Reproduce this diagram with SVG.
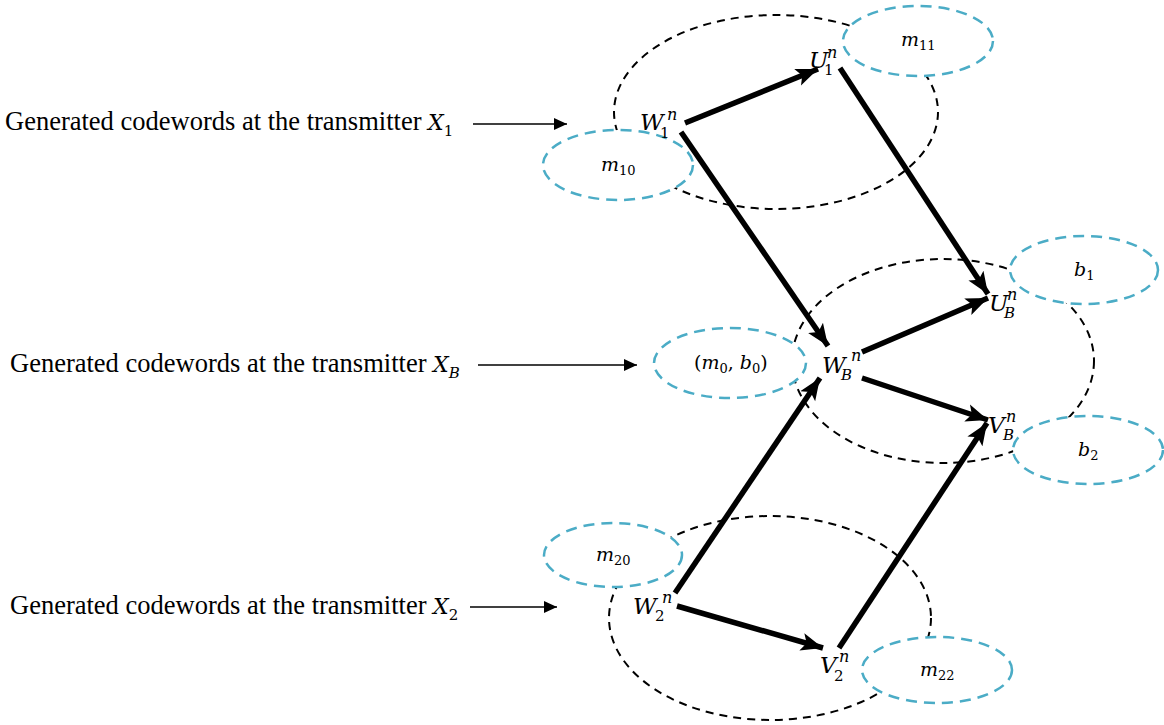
<svg xmlns="http://www.w3.org/2000/svg" width="1164" height="725" viewBox="0 0 1164 725">
<style>
.grp{fill:none;stroke:#000;stroke-width:2;stroke-dasharray:8 6}
.set{fill:#fff;stroke:#4BACC6;stroke-width:2.5;stroke-dasharray:11 7}
.thick{stroke:#000;stroke-width:5.5;fill:none}
.thin{stroke:#000;stroke-width:1.5;fill:none}
.lbl{font-family:"Liberation Serif",serif;font-size:26.5px;fill:#000}
.mv{font-family:"DejaVu Serif","Liberation Serif",serif;font-style:italic;fill:#000}
.big{font-size:23px}
.sup{font-size:16px}
.sub{font-size:15px;font-style:normal}
.subi{font-size:15px}
.sm{font-size:19px}
.ssub{font-size:13px;font-style:normal}
.up{font-style:normal}
</style>
<defs>
<marker id="ah" markerUnits="userSpaceOnUse" markerWidth="24" markerHeight="20" refX="22" refY="10" orient="auto"><path d="M0,1 L22,10 L0,19 L5,10 Z" fill="#000"/></marker>
<marker id="ahs" markerUnits="userSpaceOnUse" markerWidth="14" markerHeight="12" refX="13" refY="6" orient="auto"><path d="M0,0 L13,6 L0,12 Z" fill="#000"/></marker>
</defs>

<g id="group-X1"><ellipse class="grp" cx="776" cy="112" rx="162" ry="97"/></g>
<g id="group-XB"><ellipse class="grp" cx="943" cy="361" rx="151" ry="102"/></g>
<g id="group-X2"><ellipse class="grp" cx="770" cy="618" rx="161" ry="102"/></g>

<g id="set-m10"><ellipse class="set" cx="618" cy="165" rx="75" ry="35"/><text class="mv sm" x="601" y="171">m<tspan class="ssub" dy="4">10</tspan></text></g>
<g id="set-m11"><ellipse class="set" cx="918" cy="41" rx="75" ry="35"/><text class="mv sm" x="901" y="46">m<tspan class="ssub" dy="4">11</tspan></text></g>
<g id="set-m0b0"><ellipse class="set" cx="730" cy="363" rx="76" ry="35"/><text class="mv sm" x="694" y="369"><tspan class="up">(</tspan>m<tspan class="ssub" dy="4">0</tspan><tspan class="up" dy="-4">, </tspan>b<tspan class="ssub" dy="4">0</tspan><tspan class="up" dy="-4">)</tspan></text></g>
<g id="set-b1"><ellipse class="set" cx="1084" cy="270" rx="74" ry="34"/><text class="mv sm" x="1074" y="276">b<tspan class="ssub" dy="4">1</tspan></text></g>
<g id="set-b2"><ellipse class="set" cx="1088" cy="450" rx="75" ry="34"/><text class="mv sm" x="1078" y="456">b<tspan class="ssub" dy="4">2</tspan></text></g>
<g id="set-m20"><ellipse class="set" cx="613" cy="555" rx="69" ry="32"/><text class="mv sm" x="596" y="561">m<tspan class="ssub" dy="4">20</tspan></text></g>
<g id="set-m22"><ellipse class="set" cx="937" cy="670" rx="75" ry="33"/><text class="mv sm" x="920" y="676">m<tspan class="ssub" dy="4">22</tspan></text></g>

<g id="connectors">
<line class="thick" x1="685" y1="123" x2="818" y2="69" marker-end="url(#ah)"/>
<line class="thick" x1="681" y1="132" x2="828" y2="346" marker-end="url(#ah)"/>
<line class="thick" x1="840" y1="68" x2="988" y2="294" marker-end="url(#ah)"/>
<line class="thick" x1="862" y1="352" x2="988" y2="298" marker-end="url(#ah)"/>
<line class="thick" x1="862" y1="378" x2="988" y2="420" marker-end="url(#ah)"/>
<line class="thick" x1="675" y1="593" x2="820" y2="378" marker-end="url(#ah)"/>
<line class="thick" x1="839" y1="648" x2="987" y2="423" marker-end="url(#ah)"/>
<line class="thick" x1="677" y1="606" x2="823" y2="648" marker-end="url(#ah)"/>
<line class="thin" x1="473" y1="124" x2="567" y2="124" marker-end="url(#ahs)"/>
<line class="thin" x1="478" y1="365" x2="637" y2="365" marker-end="url(#ahs)"/>
<line class="thin" x1="470" y1="607" x2="557" y2="607" marker-end="url(#ahs)"/>
</g>

<g id="node-W1"><text class="mv big" x="640" y="130">W<tspan class="sup" x="667" y="120">n</tspan><tspan class="sub" x="660" y="138">1</tspan></text></g>
<g id="node-U1"><text class="mv big" x="809" y="68">U<tspan class="sup" x="827" y="58">n</tspan><tspan class="sub" x="824" y="75">1</tspan></text></g>
<g id="node-WB"><text class="mv big" x="822" y="373">W<tspan class="sup" x="851" y="361">n</tspan><tspan class="subi" x="841" y="380">B</tspan></text></g>
<g id="node-UB"><text class="mv big" x="989" y="311">U<tspan class="sup" x="1007" y="300">n</tspan><tspan class="subi" x="1004" y="318">B</tspan></text></g>
<g id="node-VB"><text class="mv big" x="988" y="433">V<tspan class="sup" x="1006" y="422">n</tspan><tspan class="subi" x="1003" y="440">B</tspan></text></g>
<g id="node-W2"><text class="mv big" x="633" y="614">W<tspan class="sup" x="662" y="603">n</tspan><tspan class="sub" x="655" y="621">2</tspan></text></g>
<g id="node-V2"><text class="mv big" x="820" y="673">V<tspan class="sup" x="839" y="662">n</tspan><tspan class="sub" x="834" y="681">2</tspan></text></g>

<g id="label-X1"><text class="lbl" x="5" y="130">Generated codewords at the transmitter <tspan font-family="DejaVu Serif" font-style="italic" font-size="22px">X</tspan><tspan font-family="DejaVu Serif" font-size="15px" dy="6">1</tspan></text></g>
<g id="label-XB"><text class="lbl" x="10" y="372">Generated codewords at the transmitter <tspan font-family="DejaVu Serif" font-style="italic" font-size="22px">X</tspan><tspan font-family="DejaVu Serif" font-size="15px" font-style="italic" dy="6">B</tspan></text></g>
<g id="label-X2"><text class="lbl" x="10" y="614">Generated codewords at the transmitter <tspan font-family="DejaVu Serif" font-style="italic" font-size="22px">X</tspan><tspan font-family="DejaVu Serif" font-size="15px" dy="6">2</tspan></text></g>
</svg>
